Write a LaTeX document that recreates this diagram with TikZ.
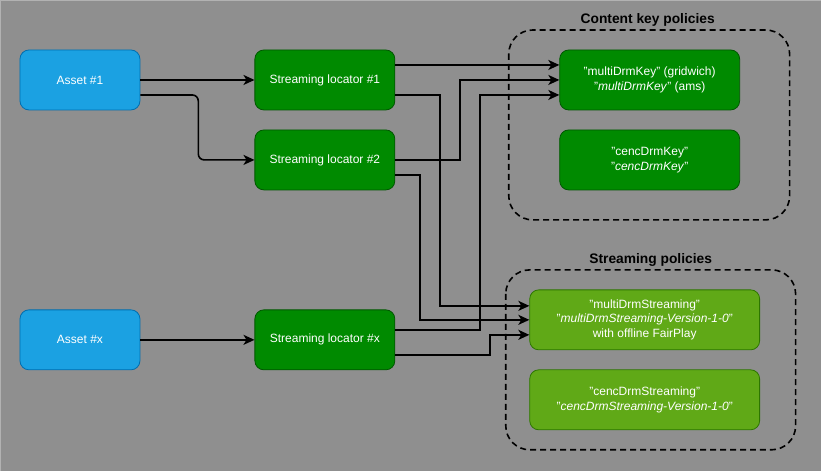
\documentclass[tikz,border=0pt]{standalone}
\usepackage{fontspec}
\setmainfont{Liberation Sans}
\usetikzlibrary{arrows.meta}

\definecolor{fondo}{HTML}{8F8F8F}
\definecolor{azulrelleno}{HTML}{1BA1E2}
\definecolor{azulborde}{HTML}{006EAF}
\definecolor{verderelleno}{HTML}{008A00}
\definecolor{verdeborde}{HTML}{005700}
\definecolor{limarelleno}{HTML}{60A917}
\definecolor{limaborde}{HTML}{2D7600}

\tikzset{
  caja/.style={rounded corners=9pt, line width=0.8pt, minimum height=60pt,
    inner sep=0pt, align=center, text=white,
    font=\fontsize{12}{14.5}\selectfont},
  activo/.style={caja, fill=azulrelleno, draw=azulborde, minimum width=120pt},
  localizador/.style={caja, fill=verderelleno, draw=verdeborde, minimum width=140pt},
  clave/.style={caja, fill=verderelleno, draw=verdeborde, minimum width=180pt},
  politica/.style={caja, fill=limarelleno, draw=limaborde, minimum width=230pt},
  grupo/.style={draw=black, line width=1.6pt, dash pattern=on 6pt off 4pt,
    rounded corners=24pt},
  titulo/.style={font=\bfseries\fontsize{13.8}{16}\selectfont, inner sep=0pt},
  flecha/.style={line width=1.6pt, -{Stealth[length=11pt,width=10pt,inset=3pt]}}
}

\begin{document}
\begin{tikzpicture}[x=1pt, y=-1pt]
        % Paso 1: Fondo y margenes
        \fill[fondo] (0,0) rectangle (821,471);
        \draw[gray!60, line width=0.8pt] (0.4,471) -- (0.4,0.4) -- (821,0.4);
        \useasboundingbox (0,0) rectangle (821,471);

        % Paso 2: Grupos de politicas
        \draw[grupo] (509,30) rectangle (790,220);
        \draw[grupo] (506,270) rectangle (796,450);
        \node[titulo] (tclaves) at (648,20) {Content key policies};
        \node[titulo] (tstreaming) at (651,260) {Streaming policies};

        % Paso 3: Activos y localizadores
        \node[activo] (a1) at (80,80) {Asset \#1};
        \node[activo] (ax) at (80,340) {Asset \#x};
        \node[localizador] (sl1) at (325,80) {Streaming locator \#1};
        \node[localizador] (sl2) at (325,160) {Streaming locator \#2};
        \node[localizador] (slx) at (325,340) {Streaming locator \#x};

        % Paso 4: Politicas de clave y de streaming
        \node[clave] (mk) at (650,80) {"multiDrmKey" (gridwich)\\"\textit{multiDrmKey}" (ams)};
        \node[clave] (ck) at (650,160) {"cencDrmKey"\\"\textit{cencDrmKey}"};
        \node[politica] (ms) at (645,320) {"multiDrmStreaming"\\"\textit{multiDrmStreaming-Version-1-0}"\\with offline FairPlay};
        \node[politica] (cs) at (645,400) {"cencDrmStreaming"\\"\textit{cencDrmStreaming-Version-1-0}"};

        % Paso 5: Activos hacia localizadores
        \draw[flecha] (a1) -- (sl1);
        \draw[flecha, rounded corners=6pt] ([yshift=-15pt]a1.east) -- ++(58,0) |- (sl2.west);
        \draw[flecha] (ax) -- (slx);

        % Paso 6: Localizadores hacia politicas
        \draw[flecha] ([yshift=15pt]sl1.east) -- ([yshift=15pt]mk.west);
        \draw[flecha] ([yshift=-15pt]sl1.east) -- ++(45,0) |- ([yshift=14pt]ms.west);
        \draw[flecha] (sl2.east) -- ++(65,0) |- (mk.west);
        \draw[flecha] ([yshift=-15pt]sl2.east) -- ++(25,0) |- (ms.west);
        \draw[flecha] ([yshift=10pt]slx.east) -- ++(85,0) |- ([yshift=-15pt]mk.west);
        \draw[flecha] ([yshift=-15pt]slx.east) -- ++(95,0) |- ([yshift=-15pt]ms.west);
    \end{tikzpicture}
\end{document}
